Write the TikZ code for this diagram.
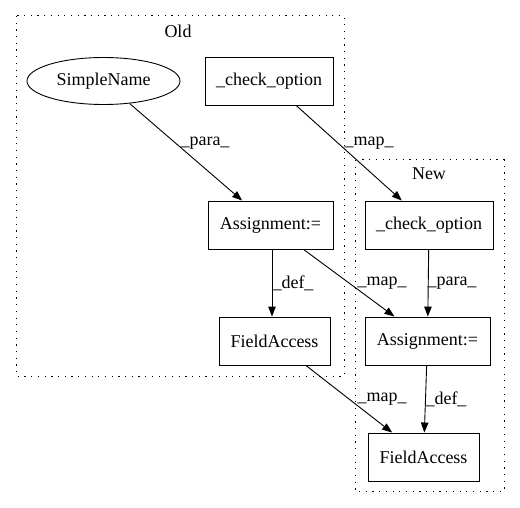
\documentclass[tikz,border=0pt]{standalone}
\usepackage{fontspec}
\setmainfont{Liberation Serif}
\usetikzlibrary{shapes.geometric,arrows.meta}
\begin{document}
\begin{tikzpicture}[x=1pt,y=-1pt,
  every node/.style={font=\fontsize{18pt}{20pt}\selectfont},
  box/.style={draw,line width=0.9pt,rectangle,inner sep=0pt,minimum height=48pt},
  ell/.style={draw,line width=0.9pt,ellipse,inner sep=0pt,minimum width=153pt,minimum height=47pt},
  cluster/.style={draw,line width=1pt,dash pattern=on 1.2pt off 5.5pt},
  edge/.style={draw,line width=0.9pt,-{Triangle[length=10pt,width=7.5pt]}},
  lbl/.style={inner sep=0pt}]
\useasboundingbox (0,0) rectangle (520,508);
\draw[cluster] (16,16) rectangle (344,376);
\draw[cluster] (355,160) rectangle (504,491);
\node (oldt) at (178,31) {Old};
\node (newt) at (429,174) {New};
\node[ell] (sn) at (103.5,81) {SimpleName};
\node[box,minimum width=128pt] (oc) at (269,81) {\_check\_option};
\node[box,minimum width=125pt] (oa) at (270.5,225) {Assignment:=};
\node[box,minimum width=111pt] (of) at (274.5,341) {FieldAccess};
\node[box,minimum width=128pt] (nc) at (429,225) {\_check\_option};
\node[box,minimum width=125pt] (na) at (427.5,341) {Assignment:=};
\node[box,minimum width=111pt] (nf) at (423.5,457) {FieldAccess};
\path[edge] (sn) -- (oa);
\path[edge] (oc) -- (nc);
\path[edge] (oa.south) ++(1.5,0) coordinate (oas) -- (of.north -| oas);
\path[edge] (oa) -- (na);
\path[edge] (nc) -- (na);
\path[edge] (of) -- (nf);
\path[edge] (na) -- (nf);
\node[lbl] (l1) at (205,143) {\_para\_};
\node[lbl] (l2) at (369,143) {\_map\_};
\node[lbl] (l3) at (293,283) {\_def\_};
\node[lbl] (l4) at (382,283) {\_map\_};
\node[lbl] (l5) at (452,283) {\_para\_};
\node[lbl] (l6) at (382,399) {\_map\_};
\node[lbl] (l7) at (446,399) {\_def\_};
\end{tikzpicture}
\end{document}
